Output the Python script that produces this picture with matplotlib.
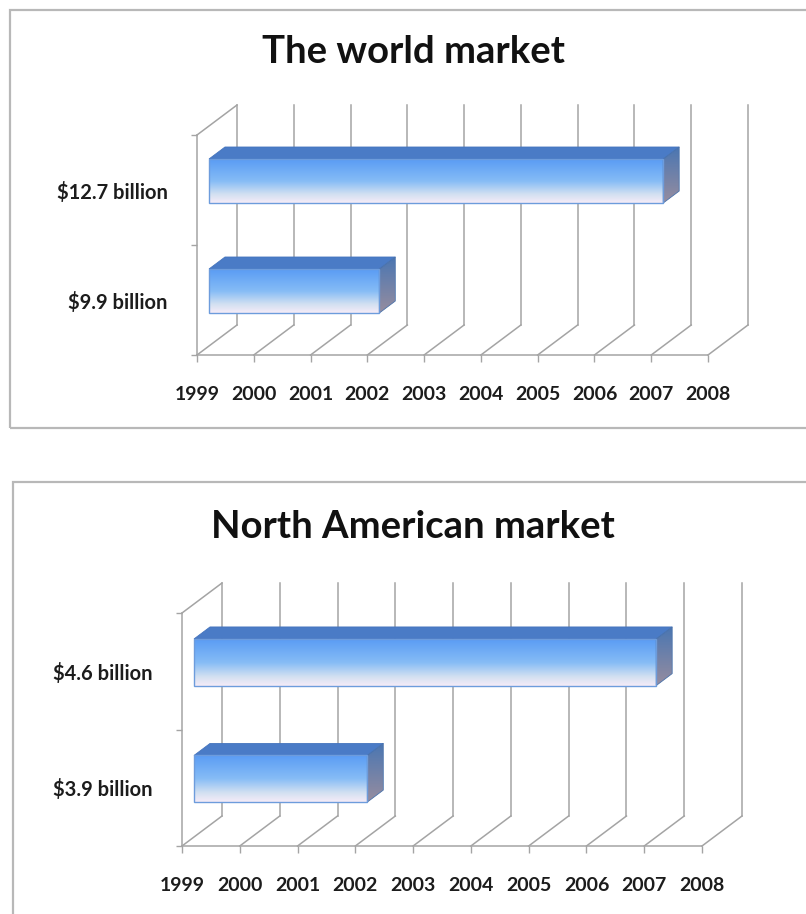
"""
market_bars.py — world / North American market size as 3D-style horizontal bars

Each panel is a small "box" chart: back wall with year gridlines, a floor
drawn in oblique projection, and bars with a gradient front face.
"""

import numpy as np
import matplotlib
matplotlib.use("Agg")
import matplotlib.pyplot as plt
from matplotlib.colors import LinearSegmentedColormap
from matplotlib.patches import Polygon, Rectangle

plt.rcParams["font.family"] = ["Lato", "DejaVu Sans"]

YEARS = list(range(1999, 2009))
START_YEAR = 1999

WORLD_TITLE = "The world market"
WORLD_LABELS = ["$9.9 billion", "$12.7 billion"]
WORLD_END_YEARS = [2002, 2007]

NA_TITLE = "North American market"
NA_LABELS = ["$3.9 billion", "$4.6 billion"]
NA_END_YEARS = [2002, 2007]

FIG_W, FIG_H, DPI = 806, 914, 100

GRID_COLOR = "#a4a4a4"
TEXT_COLOR = "#1c1c1c"
BORDER_COLOR = "#b8b8b8"
FRONT_CMAP = LinearSegmentedColormap.from_list(
    "front", [(0.0, "#f6ecf8"), (0.2, "#d2e0f1"), (0.5, "#86bcf6"), (1.0, "#5a9cf4")]
)
SIDE_CMAP = LinearSegmentedColormap.from_list("side", ["#978d9f", "#4a76b2"])
TOP_COLOR = "#4a7bc6"
EDGE_COLOR = "#6d9cdc"

DEPTH_PX = (40, 30)      # full depth offset of the box, in pixels (x, y)
BAR_DEPTH = (0.3, 0.7)   # bars sit in the middle of the depth
BAR_HEIGHT = 0.4         # fraction of a category slot


def px_rect(left, top, right, bottom):
    """pixel box (from top-left) -> figure fraction [l, b, w, h]"""
    return [left / FIG_W, 1 - bottom / FIG_H, (right - left) / FIG_W, (bottom - top) / FIG_H]


def draw_panel(fig, front_box, title, title_y, labels, end_years):
    ax = fig.add_axes(px_rect(*front_box))
    n = len(labels)
    x0, x1 = YEARS[0], YEARS[-1]

    # depth offset expressed in data units
    ux = DEPTH_PX[0] / ((front_box[2] - front_box[0]) / (x1 - x0))
    uy = DEPTH_PX[1] / ((front_box[3] - front_box[1]) / n)

    def proj(x, y, d):
        return (x + d * ux, y + d * uy)

    line_kw = dict(color=GRID_COLOR, lw=1.1, clip_on=False, zorder=1)

    # floor, back wall and left wall
    ax.plot([x0, x1], [0, 0], **line_kw)
    for yr in YEARS:
        (bx, by) = proj(yr, 0, 1)
        ax.plot([yr, bx], [0, by], **line_kw)
        ax.plot([bx, bx], [by, n + by], **line_kw)
    ax.plot([x0, x0], [0, n], **line_kw)
    tx, ty = proj(x0, n, 1)
    ax.plot([x0, tx], [n, ty], **line_kw)

    # bars
    d0, d1 = BAR_DEPTH
    grad = np.linspace(0, 1, 256).reshape(-1, 1)
    centers = [i + 0.5 for i in range(n)]
    widths = [e - START_YEAR for e in end_years]
    bars = ax.barh(
        [c + d0 * uy for c in centers], widths,
        left=START_YEAR + d0 * ux, height=BAR_HEIGHT,
        facecolor="none", edgecolor=EDGE_COLOR, linewidth=1.0, zorder=4,
    )
    for bar, c, end in zip(bars, centers, end_years):
        yb, yt = c - BAR_HEIGHT / 2, c + BAR_HEIGHT / 2
        fx0, fy0 = proj(START_YEAR, yb, d0)
        fx1, fy1 = proj(end, yt, d0)
        img = ax.imshow(grad, cmap=FRONT_CMAP, origin="lower", aspect="auto",
                        extent=(fx0, fx1, fy0, fy1), zorder=3)
        img.set_clip_path(bar)

        top = Polygon([proj(START_YEAR, yt, d0), proj(end, yt, d0),
                       proj(end, yt, d1), proj(START_YEAR, yt, d1)],
                      closed=True, facecolor=TOP_COLOR, edgecolor="#4574bd",
                      linewidth=0.6, zorder=3)
        ax.add_patch(top)

        side_pts = [proj(end, yb, d0), proj(end, yt, d0), proj(end, yt, d1), proj(end, yb, d1)]
        side = Polygon(side_pts, closed=True, facecolor="none",
                       edgecolor="#4a72aa", linewidth=0.6, zorder=3)
        ax.add_patch(side)
        sx = [p[0] for p in side_pts]
        sy = [p[1] for p in side_pts]
        simg = ax.imshow(grad, cmap=SIDE_CMAP, origin="lower", aspect="auto",
                         extent=(min(sx), max(sx), min(sy), max(sy)), zorder=2.9)
        simg.set_clip_path(side)

    ax.set_xlim(x0, x1)
    ax.set_ylim(0, n)

    # ticks and labels
    ax.set_xticks(YEARS)
    ax.set_xticklabels([str(y) for y in YEARS], fontsize=14, fontweight="bold",
                       color=TEXT_COLOR)
    ax.tick_params(axis="x", length=5, width=1, color=GRID_COLOR, pad=17)
    ax.set_yticks(range(n + 1))
    ax.set_yticklabels([""] * (n + 1))
    ax.tick_params(axis="y", which="major", length=4, width=1, color=GRID_COLOR)
    ax.set_yticks(centers, minor=True)
    ax.set_yticklabels(labels, minor=True, fontsize=14.5, fontweight="bold",
                       color=TEXT_COLOR)
    ax.tick_params(axis="y", which="minor", length=0, pad=21)

    for s in ax.spines.values():
        s.set_visible(False)
    ax.patch.set_visible(False)

    fig.text(413 / FIG_W, 1 - title_y / FIG_H, title, ha="center", va="center",
             fontsize=27.5, fontweight="bold", color="#111111")
    return ax


fig = plt.figure(figsize=(FIG_W / DPI, FIG_H / DPI), dpi=DPI)
fig.patch.set_facecolor("white")

# panel frames (run off the right / bottom edge)
for (l, t, b) in [(10, 10, 428), (13, 482, 960)]:
    fig.patches.append(Rectangle(
        (l / FIG_W, 1 - b / FIG_H), 1.2, (b - t) / FIG_H,
        transform=fig.transFigure, facecolor="none",
        edgecolor=BORDER_COLOR, linewidth=1.6, zorder=0,
    ))

draw_panel(fig, (197, 135, 708, 355), WORLD_TITLE, 52, WORLD_LABELS, WORLD_END_YEARS)
draw_panel(fig, (182, 613, 702, 846), NA_TITLE, 527, NA_LABELS, NA_END_YEARS)

fig.savefig("out.png", dpi=DPI)
